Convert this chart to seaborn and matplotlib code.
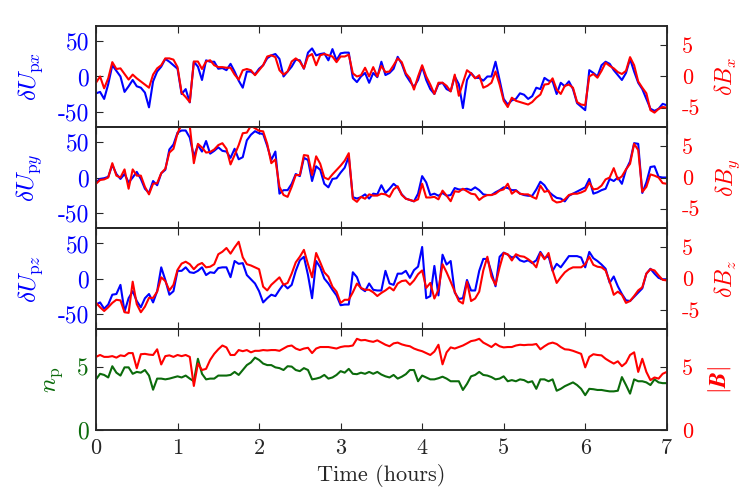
import numpy as np
import matplotlib
matplotlib.use('Agg')
import matplotlib.pyplot as plt
import seaborn as sns
from matplotlib.mathtext import MathTextParser

# sample times (hours), 3-minute cadence
hours = np.linspace(0, 7, 141)

du_x = [-24, -22, -32, -11, 16, 8, 0, -22, -14, -5,
        -14, -16, -23, -44, -7, 7, 14, 25, 21, 16,
        11, -25, -18, -37, 21, 14, -5, 23, 21, 21,
        11, 12, 9, 18, 7, -6, -16, 7, 7, 3,
        11, 16, 26, 30, 32, 25, 0, 7, 14, 24,
        23, 11, 34, 40, 30, 32, 33, 23, 39, 23,
        33, 34, 34, -2, -8, 0, 5, -9, 5, -1,
        21, 2, 5, 11, 28, 18, 2, -7, -15, -5,
        14, -5, -18, -25, -11, -9, -18, -21, 0, -11,
        -45, -5, 5, -2, -2, -6, 0, 0, 21, -5,
        -32, -40, -34, -32, -24, -26, -32, -28, -16, -18,
        -2, -6, -7, -25, -9, -14, -7, -18, -38, -43,
        -48, 9, 5, 0, 16, 21, 18, 9, 2, -5,
        5, 25, 7, -9, -18, -32, -46, -49, -46, -39,
        -41]
db_x = [-1.0, 0.0, -1.9, -0.3, 2.3, 1.2, 1.3, 0.4, -0.5, 0.3,
        -0.3, -0.8, -1.3, -1.8, 0.3, 1.3, 1.8, 2.9, 2.9, 2.7,
        1.5, -2.6, -3.3, -4.1, 2.4, 2.4, 1.2, 2.4, 2.6, 1.8,
        1.5, 1.5, 1.4, 1.4, 0.3, -0.5, 1.0, 1.2, 1.0, 0.2,
        1.0, 1.8, 3.2, 3.4, 3.1, 1.0, 0.3, 0.8, 2.4, 2.9,
        2.4, 1.3, 3.2, 3.6, 1.8, 3.4, 3.6, 3.4, 3.2, 2.3,
        3.2, 3.2, 3.5, 0.5, 0.0, 0.2, 1.4, 0.0, 1.5, 0.0,
        1.7, 0.7, 0.8, 1.8, 2.9, 2.3, 0.5, -0.3, -2.1, 0.0,
        1.8, 0.0, -1.3, -2.8, -1.0, -1.0, -1.5, -2.4, 0.3, -3.1,
        -1.0, 1.0, 0.5, -0.3, 0.2, -1.8, -1.5, -1.0, 0.8, -1.3,
        -3.9, -4.9, -3.4, -3.9, -4.1, -4.3, -4.5, -4.1, -3.4, -2.9,
        -1.3, -1.2, -0.3, -2.1, -2.8, -1.5, -1.3, -1.8, -4.1, -4.5,
        -4.6, 0.0, 0.4, -0.2, 0.9, 2.2, 1.7, 1.3, 0.7, 0.4,
        0.9, 3.1, 1.8, -0.8, -1.8, -2.7, -5.4, -5.8, -5.2, -4.9,
        -5.0]

du_y = [-7, -2, -1, 1, 18, 5, -2, 5, -7, 0,
        8, -2, -16, -22, -5, -11, 6, 11, 40, 47,
        64, 67, 67, 57, 30, 46, 37, 52, 34, 38,
        43, 38, 37, 28, 41, 26, 29, 53, 61, 66,
        63, 62, 45, 25, 37, -23, -18, -18, -9, 5,
        2, 28, 25, -5, 16, 11, -9, -14, -2, -1,
        7, 14, 30, -28, -30, -28, -24, -30, -23, -24,
        -11, -22, -16, -9, -14, -24, -30, -32, -34, -23,
        2, -7, -25, -23, -26, -22, -26, -25, -15, -17,
        -17, -16, -18, -14, -18, -24, -25, -25, -21, -18,
        -14, -15, -18, -18, -23, -25, -26, -26, -17, -6,
        -11, -20, -25, -29, -30, -34, -26, -23, -20, -17,
        -14, -2, -23, -21, -18, -16, -2, -5, 0, -9,
        11, 23, 49, 48, -22, -7, 15, 16, 1, 0,
        0]
db_y = [-1.0, -0.4, -0.3, 0.0, 2.3, 0.3, 0.0, 1.3, -1.8, 1.3,
        0.3, 0.3, -1.5, -2.7, -1.0, -0.9, 0.7, 1.4, 4.0, 4.6,
        7.1, 8.5, 8.5, 8.3, 2.3, 5.4, 4.8, 4.0, 4.1, 4.5,
        5.2, 5.5, 4.6, 2.1, 3.6, 5.2, 7.1, 7.2, 8.3, 7.9,
        7.5, 7.4, 5.4, 2.3, 2.9, -1.5, -2.8, -3.1, -1.5, 0.4,
        0.4, 3.6, 3.5, 0.4, 3.4, 2.2, 0.0, -0.3, 0.5, 1.2,
        1.9, 2.7, 3.9, -3.4, -3.9, -3.1, -3.4, -2.7, -2.9, -2.9,
        -2.6, -2.7, -3.1, -1.9, -1.4, -2.8, -3.4, -3.6, -3.8, -3.5,
        -1.0, -3.2, -3.2, -3.1, -3.5, -2.1, -2.9, -3.8, -2.2, -2.3,
        -1.8, -2.2, -2.6, -2.7, -3.6, -3.1, -2.8, -2.8, -2.6, -2.1,
        -1.9, -1.0, -2.6, -2.1, -2.6, -2.7, -2.7, -3.1, -3.4, -1.3,
        -2.3, -2.1, -3.6, -4.0, -3.9, -3.5, -2.8, -2.6, -2.6, -2.4,
        -2.1, -0.8, -1.9, -1.8, -1.3, -0.3, 0.0, 1.5, -0.3, 0.2,
        1.3, 2.2, 5.4, 4.4, -2.3, -1.5, 0.5, 0.3, 0.0, -0.9,
        -1.0]

du_z = [-37, -34, -43, -37, -23, -22, -9, -47, -28, -18,
        -32, -41, -28, -22, -34, -18, 16, -2, -23, -18,
        11, 11, 16, 9, 8, 11, 16, 5, 9, 8,
        15, 16, 16, 2, 25, 21, 22, 5, -1, -7,
        -18, -34, -28, -23, -25, -16, -8, -14, -9, 11,
        26, 31, 5, -28, 25, 16, 0, -7, -16, -24,
        -38, -37, -37, 9, 2, -14, -18, -7, -16, -17,
        -17, 11, -7, -9, 7, 7, 11, 1, 12, 17,
        45, -28, -25, 18, -24, 34, 20, 25, -20, -29,
        -28, -2, -17, -17, 11, 28, 28, 9, -11, 31,
        37, 34, 30, 32, 26, 24, 26, 22, 26, 38,
        29, 32, 11, 21, 16, 24, 32, 32, 32, 30,
        16, 38, 29, 25, 20, 14, -6, 3, -11, -22,
        -31, -32, -26, -20, -14, 7, 14, 7, 1, -1,
        -1]
db_z = [-3.9, -4.6, -5.2, -4.6, -3.9, -3.4, -3.5, -5.4, -5.5, -0.5,
        -4.1, -5.4, -4.5, -3.1, -3.1, -2.1, 0.2, -0.4, -1.9, -1.0,
        1.4, 2.4, 2.7, 2.3, 1.5, 2.2, 2.5, 1.8, 1.9, 2.3,
        3.9, 4.3, 4.9, 4.0, 5.0, 5.9, 3.4, 2.3, 2.1, 1.8,
        1.5, -1.3, -1.9, -1.0, -0.4, 0.2, -1.0, -0.7, 0.8, 2.6,
        3.5, 4.6, 2.3, 0.2, 4.1, 2.6, 1.0, 0.3, -1.3, -2.1,
        -3.9, -3.4, -3.4, -2.2, -0.8, -1.5, -1.8, -1.8, -2.2, -2.8,
        -2.3, -1.9, -1.4, -1.9, -0.8, -0.4, -0.3, -1.0, -0.3, 0.7,
        1.3, -1.5, -0.7, -3.2, -1.8, 2.3, 1.0, -0.5, -2.1, -3.6,
        -4.0, -0.5, -3.6, -3.2, -2.1, 1.3, 3.5, 0.3, -1.0, 1.8,
        4.1, 3.9, 2.9, 3.9, 3.6, 3.5, 3.1, 2.6, 1.8, 4.1,
        3.1, 4.1, 1.3, -0.7, 0.2, 1.0, 1.5, 1.8, 1.8, 1.8,
        2.3, 3.5, 2.2, 1.9, 1.8, 1.3, -0.5, -2.6, -2.1, -2.6,
        -3.9, -3.6, -2.8, -1.9, -1.4, 0.8, 1.5, 1.3, 0.5, -0.2,
        -0.3]

n_p = [4.02, 4.46, 4.37, 4.17, 5.06, 4.55, 4.32, 4.97, 4.97, 4.46,
       4.61, 4.55, 4.76, 4.32, 3.20, 4.08, 4.08, 4.02, 4.08, 4.17,
       4.26, 4.17, 4.32, 4.08, 3.87, 5.65, 4.46, 4.02, 4.08, 4.08,
       4.32, 4.32, 4.32, 4.37, 4.61, 4.37, 4.76, 5.15, 5.36, 5.74,
       5.56, 5.27, 5.15, 5.15, 4.97, 4.91, 4.76, 5.06, 5.03, 4.76,
       4.67, 4.91, 4.76, 4.02, 4.08, 4.17, 4.37, 4.08, 4.17, 4.37,
       4.67, 4.55, 4.85, 4.46, 4.43, 4.55, 4.46, 4.61, 4.46, 4.61,
       4.40, 4.26, 4.17, 4.37, 4.08, 4.23, 4.43, 4.76, 4.76, 3.87,
       4.32, 4.17, 4.02, 4.02, 4.11, 4.23, 4.08, 3.87, 3.87, 3.87,
       3.18, 3.66, 4.26, 4.37, 4.61, 4.37, 4.32, 4.20, 4.02, 4.08,
       4.26, 3.87, 3.96, 3.87, 4.02, 3.96, 3.78, 3.87, 3.27, 4.02,
       4.02, 3.87, 4.02, 3.12, 3.27, 3.48, 3.63, 3.78, 3.57, 3.27,
       2.77, 3.27, 3.24, 3.18, 3.18, 3.12, 3.07, 3.07, 3.12, 4.20,
       3.57, 2.89, 4.02, 3.87, 3.87, 3.78, 3.57, 4.02, 3.78, 3.72,
       3.72]
b_mag = [5.80, 5.95, 5.80, 5.80, 5.86, 5.74, 5.92, 5.86, 6.10, 6.10,
         4.90, 6.01, 6.04, 5.98, 5.95, 6.40, 5.20, 5.86, 5.92, 5.80,
         5.95, 5.86, 5.95, 5.80, 3.50, 5.27, 4.76, 4.85, 5.56, 6.04,
         6.40, 6.70, 6.55, 5.95, 5.95, 6.34, 6.25, 6.34, 6.16, 6.28,
         6.28, 6.34, 6.31, 6.34, 6.34, 6.28, 6.46, 6.64, 6.70, 6.46,
         6.34, 6.46, 6.52, 6.10, 6.46, 6.58, 6.58, 6.58, 6.52, 6.46,
         6.58, 6.64, 6.64, 6.70, 7.23, 7.11, 7.14, 7.05, 6.99, 7.11,
         6.93, 6.76, 6.64, 6.87, 6.93, 6.79, 6.70, 6.64, 6.46, 6.34,
         6.25, 6.10, 5.95, 6.22, 6.76, 5.21, 6.16, 6.55, 6.46, 6.58,
         6.70, 6.87, 7.05, 7.11, 7.23, 6.93, 6.76, 6.58, 6.84, 6.64,
         6.55, 6.58, 6.58, 6.70, 6.76, 6.73, 6.76, 6.76, 6.82, 6.40,
         6.64, 6.84, 6.93, 6.82, 6.58, 6.40, 6.37, 6.28, 6.16, 6.04,
         4.97, 5.80, 6.01, 5.95, 5.92, 5.65, 5.45, 5.27, 5.45, 5.06,
         5.33, 5.95, 6.16, 4.61, 5.65, 4.61, 3.96, 4.17, 4.08, 4.46,
         4.61]

BLUE = '#0000ff'
RED = '#ff0000'
GREEN = '#0b6b0b'

sns.set_style('ticks')
plt.rcParams['font.family'] = ['cmr10', 'DejaVu Serif']
plt.rcParams['mathtext.fontset'] = 'cm'
plt.rcParams['axes.unicode_minus'] = False
plt.rcParams['axes.linewidth'] = 1.1


def math_ok(s):
    try:
        MathTextParser('path').parse(s)
        return True
    except Exception:
        return False


bmag_label = r'$|\boldsymbol{B}|$' if math_ok(r'$|\boldsymbol{B}|$') else r'$|\mathbf{B}|$'

panels = [
    (du_x, db_x, BLUE, r'$\delta U_{\mathrm{p}x}$', r'$\delta B_x$', (-72, 72), (-8.1, 8.1), [-50, 0, 50], [-5, 0, 5]),
    (du_y, db_y, BLUE, r'$\delta U_{\mathrm{p}y}$', r'$\delta B_y$', (-72, 72), (-8.1, 8.1), [-50, 0, 50], [-5, 0, 5]),
    (du_z, db_z, BLUE, r'$\delta U_{\mathrm{p}z}$', r'$\delta B_z$', (-72, 72), (-8.1, 8.1), [-50, 0, 50], [-5, 0, 5]),
    (n_p, b_mag, GREEN, r'$n_{\mathrm{p}}$', bmag_label, (0, 8), (0, 8), [0, 5], [0, 5]),
]

FS = 16
fig, axes = plt.subplots(4, 1, sharex=True, figsize=(7.5, 4.99), dpi=100)
fig.subplots_adjust(left=0.128, right=0.889, top=0.948, bottom=0.138, hspace=0)

for ax, (left_vals, right_vals, lcol, llab, rlab, lylim, rylim, lticks, rticks) in zip(axes, panels):
    sns.lineplot(x=hours, y=left_vals, ax=ax, color=lcol, lw=1.5)
    ax.set_xlim(0, 7)
    ax.set_ylim(*lylim)
    ax.set_yticks(lticks)
    ax.set_xticks(range(8))
    ax.tick_params(axis='x', direction='in', top=True, bottom=True, length=5, labelsize=FS, pad=6)
    ax.tick_params(axis='y', direction='in', left=True, right=False, length=5,
                   labelcolor=lcol, labelsize=FS + 1, pad=5)
    ax.set_ylabel(llab, color=lcol, fontsize=FS + 2, labelpad=9)

    ax2 = ax.twinx()
    sns.lineplot(x=hours, y=right_vals, ax=ax2, color=RED, lw=1.5)
    ax2.set_ylim(*rylim)
    ax2.set_yticks(rticks)
    ax2.tick_params(axis='y', direction='in', right=True, length=5,
                    labelcolor=RED, labelsize=FS, pad=11)
    ax2.set_ylabel(rlab, color=RED, fontsize=FS + 1, labelpad=9)

axes[-1].set_xlabel('Time (hours)', fontsize=FS)

fig.savefig('out.png', dpi=100)
